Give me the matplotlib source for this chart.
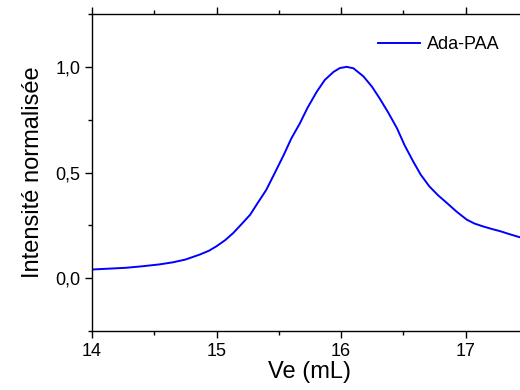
import matplotlib
matplotlib.use('Agg')
import matplotlib.pyplot as plt
from matplotlib.ticker import MultipleLocator, FuncFormatter

plt.rcParams['font.family'] = ['Liberation Sans', 'DejaVu Sans']

# values
ve = [14.0, 14.27, 14.4, 14.54, 14.65, 14.75, 14.867, 14.94, 15.0, 15.07,
      15.135, 15.2, 15.27, 15.33, 15.4, 15.47, 15.54, 15.6, 15.67, 15.73,
      15.805, 15.87, 15.94, 15.99, 16.045, 16.1, 16.18, 16.25, 16.31, 16.38,
      16.45, 16.51, 16.58, 16.64, 16.71, 16.78, 16.85, 16.93, 17.01, 17.07,
      17.14, 17.21, 17.28, 17.36, 17.44, 17.5]
intensite = [0.041, 0.049, 0.056, 0.065, 0.075, 0.088, 0.112, 0.13, 0.151, 0.18,
             0.214, 0.255, 0.300, 0.355, 0.418, 0.50, 0.583, 0.66, 0.733, 0.805,
             0.882, 0.938, 0.976, 0.994, 1.0, 0.993, 0.955, 0.905, 0.851, 0.783,
             0.709, 0.63, 0.552, 0.49, 0.434, 0.392, 0.356, 0.314, 0.277, 0.259,
             0.245, 0.233, 0.222, 0.207, 0.193, 0.188]

fig = plt.figure(figsize=(5.2, 3.9), dpi=100)
ax = fig.add_axes([92 / 520, 59 / 390, 435.75 / 520, 317 / 390])

ax.plot(ve, intensite, color='#0000ff', lw=1.4, label='Ada-PAA')

ax.set_xlim(14, 17.5)
ax.set_ylim(-0.25, 1.25)
ax.xaxis.set_major_locator(MultipleLocator(1))
ax.xaxis.set_minor_locator(MultipleLocator(0.5))
ax.yaxis.set_major_locator(MultipleLocator(0.5))
ax.yaxis.set_minor_locator(MultipleLocator(0.25))
ax.yaxis.set_major_formatter(FuncFormatter(lambda v, p: f'{v:.1f}'.replace('.', ',')))

ax.tick_params(which='both', direction='out', labelsize=13, top=True, width=1)
ax.tick_params(which='major', length=5)
ax.tick_params(which='minor', length=3)
for s in ax.spines.values():
    s.set_linewidth(1)

ax.set_xlabel('Ve (mL)', fontsize=17, labelpad=1)
ax.set_ylabel('Intensité normalisée', fontsize=17, labelpad=8)

ax.legend(loc='upper left', bbox_to_anchor=(378 / 520, 1 - 36 / 390),
          bbox_transform=fig.transFigure, frameon=False, fontsize=13,
          handlelength=2.3, handletextpad=0.4, borderpad=0, borderaxespad=0)

fig.savefig('out.png', dpi=100)
